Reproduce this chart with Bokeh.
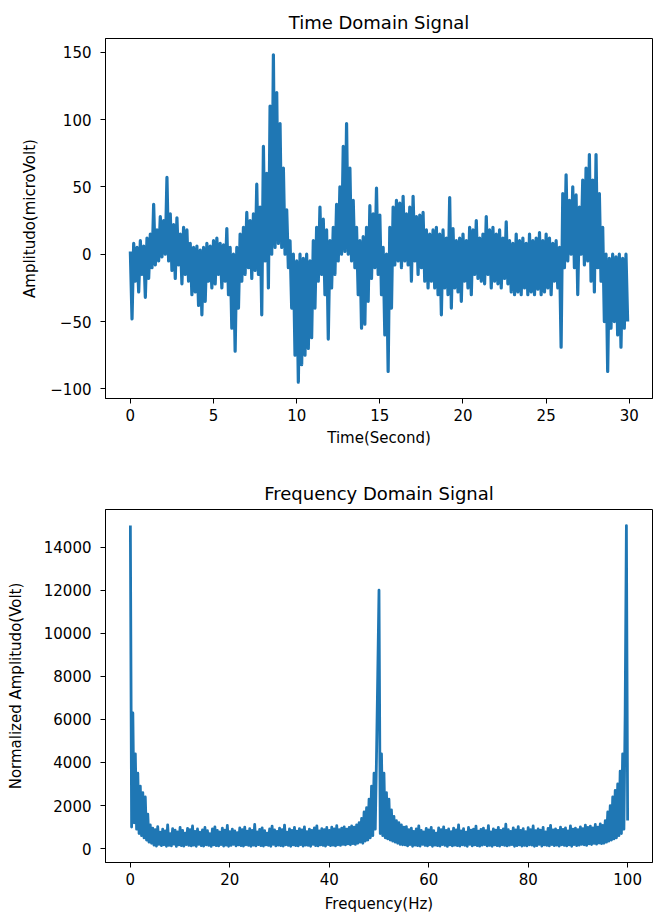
import numpy as np
from bokeh.plotting import figure
from bokeh.layouts import column
from bokeh.models import Range1d, FixedTicker, CustomJSTickFormatter
from bokeh.embed import file_html
from bokeh.resources import INLINE

# ---------------- data ----------------
# Time-domain signal, one value every 0.1 s (alternating crest / trough of the dense trace)
time_step_s = 0.1
amplitude_uv = [
    2, -48, 8, -20, 5, -28, 10, -15, 6, -32, 12, -18, 15, -10, 37, -8, 18, -5, 28, -2,
    25, 0, 57, -5, 30, -12, 22, -18, 27, -8, 15, -22, 20, -15, 18, -20, 8, -30, 5, -28,
    6, -38, 3, -45, 5, -35, 8, -20, 6, -25, 10, -22, 12, -15, 8, -25, 7, -20, 19, -30,
    5, -55, 0, -72, 5, -40, 15, -20, 20, -15, 31, -10, 25, -18, 30, -12, 52, -15, 35, -45,
    80, -5, 60, -25, 110, 0, 148, 5, 120, 8, 97, 5, 64, 0, 33, -10, 10, -40, 0, -75,
    -5, -95, 0, -82, -3, -75, 0, -70, -5, -62, 10, -40, 20, -20, 35, -15, 26, -30, 18, -63,
    10, -25, 20, -15, 37, -5, 50, 0, 80, 2, 97, 0, 64, -5, 40, -10, 20, -30, 10, -55,
    13, -52, 20, -35, 36, -18, 30, -10, 49, -15, 29, -30, 5, -60, 0, -87, 20, -40, 35, -8,
    40, -5, 38, -10, 43, -5, 30, -8, 35, -20, 43, -5, 28, -15, 29, -10, 31, -20, 18, -25,
    15, -20, 18, -25, 20, -30, 15, -45, 18, -25, 12, -30, 42, -40, 19, -25, 10, -28, 12, -35,
    15, -20, 10, -25, 20, -30, 18, -15, 25, -18, 12, -20, 15, -22, 28, -15, 18, -25, 20, -20,
    15, -22, 18, -25, 12, -18, 24, -22, 10, -28, 8, -30, 15, -28, 10, -30, 12, -25, 8, -30,
    15, -28, 10, -30, 12, -26, 16, -30, 10, -28, 15, -25, 12, -30, 8, -20, 10, -25, 5, -69,
    45, -10, 59, -5, 40, 0, 50, -10, 44, -30, 35, 0, 55, -8, 64, -5, 74, -20, 55, -28,
    74, -10, 45, -20, 20, -50, 0, -87, -3, -55, 0, -50, -2, -60, 0, -69, -3, -55, 0, -50,
]

# Frequency-domain magnitude, one value every 0.25 Hz
freq_step_hz = 0.25
mag_low_decay = [15000, 1000, 6300, 1200, 4400, 900, 3500, 700, 2900, 600,
                 2600, 500, 2400, 400, 1600, 300, 1100, 250]
mag_floor_a = [
    950, 160, 880, 120, 1020, 200, 760, 140, 900, 180, 820, 110, 1100, 150, 700, 130, 930, 210, 860, 100,
    780, 170, 990, 140, 850, 120, 720, 190, 940, 150, 880, 130, 1050, 160, 800, 110, 910, 200, 760, 140,
    870, 120, 980, 180, 830, 150, 690, 100, 920, 170, 1010, 140, 840, 130, 770, 190, 950, 120, 860, 160,
    1080, 110, 790, 150, 900, 200, 820, 130, 740, 170, 960, 140, 880, 120, 1000, 180, 810, 150, 930, 110,
    850, 160, 1120, 130, 780, 190, 890, 140, 960, 120, 830, 170, 720, 150, 910, 110, 1040, 200, 870, 130,
    800, 160, 950, 140, 880, 120, 1090, 180, 760, 150, 920, 110, 850, 170, 990, 140, 810, 130, 930, 190,
    870, 120, 1010, 160, 790, 150, 900, 110, 840, 200, 960, 140, 1060, 130, 820, 170, 930, 150, 880, 120,
    980, 190, 850, 140, 1000, 160, 920, 130, 1070, 180, 880, 150, 950, 200, 1010, 170, 900, 220, 980, 180,
    1050, 230,
]
mag_mid_peak = [1000, 200, 1100, 250, 1200, 300, 1400, 250, 1700, 350,
                1900, 400, 2300, 500, 2900, 600, 3500, 900, 4300, 8100,
                12000, 700, 4400, 600, 3500, 500, 2600, 450, 2300, 400,
                1800, 350, 1500, 300, 1300, 250, 1200, 200, 1100, 180,
                1000]
mag_floor_b = [
    170, 1020, 130, 880, 190, 950, 110, 800, 160, 920, 140, 1060, 120, 850, 200, 780, 150, 940, 130, 870,
    180, 990, 110, 830, 160, 720, 140, 960, 120, 880, 190, 1010, 150, 840, 100, 910, 170, 790, 130, 950,
    160, 870, 140, 1100, 120, 820, 180, 930, 150, 760, 110, 980, 200, 860, 130, 900, 170, 1040, 140, 810,
    120, 890, 160, 950, 190, 830, 130, 1070, 150, 780, 110, 920, 170, 860, 140, 990, 120, 840, 180, 910,
    150, 1130, 130, 880, 160, 800, 190, 960, 110, 870, 140, 1020, 170, 850, 120, 930, 150, 790, 130, 970,
    180, 880, 160, 1050, 110, 830, 140, 910, 200, 860, 120, 990, 170, 780, 150, 940, 130, 1080, 190, 870,
    140, 920, 160, 840, 120, 1000, 180, 890, 150, 960, 130, 820, 170, 1060, 110, 900, 190, 950, 140, 880,
    160, 1010, 200, 930, 180, 1090, 150, 980, 220, 1040, 190, 960, 240, 1120, 210, 1000, 260, 1150, 230, 1080,
]
mag_high_rise = [250, 1300, 300, 1700, 350, 2000, 400, 2400, 450, 2700,
                 500, 3000, 600, 3600, 700, 4400, 900, 6300, 15000, 1300]

x_ticks_time = [0, 5, 10, 15, 20, 25, 30]
y_ticks_time = [-100, -50, 0, 50, 100, 150]
x_ticks_freq = [0, 20, 40, 60, 80, 100]
y_ticks_freq = [0, 2000, 4000, 6000, 8000, 10000, 12000, 14000]

# ---------------- derived ----------------
amp = np.array(amplitude_uv, dtype=float)
time_s = np.arange(len(amp)) * time_step_s
mag = np.array(mag_low_decay + mag_floor_a + mag_mid_peak + mag_floor_b + mag_high_rise, dtype=float)
freq_hz = np.arange(len(mag)) * freq_step_hz


def padded(lo, hi, frac=0.05):
    d = (hi - lo) * frac
    return Range1d(lo - d, hi + d)


FONT = "DejaVu Sans"
LINE_COLOR = "#1f77b4"
minus_fmt = "return tick < 0 ? '\\u2212' + Math.abs(tick) : String(tick);"


def style(p, xt, yt, x_lab_standoff, y_lab_standoff):
    p.xgrid.visible = False
    p.ygrid.visible = False
    p.background_fill_color = "white"
    p.border_fill_color = "white"
    p.outline_line_color = "black"
    p.outline_line_width = 1
    p.title.text_font = FONT
    p.title.text_font_size = "18px"
    p.title.text_font_style = "normal"
    p.title.text_color = "black"
    p.title.align = "center"
    p.title.standoff = 12
    for ax, ticks in ((p.xaxis[0], xt), (p.yaxis[0], yt)):
        ax.ticker = FixedTicker(ticks=ticks)
        ax.formatter = CustomJSTickFormatter(code=minus_fmt)
        ax.minor_tick_line_color = None
        ax.major_tick_in = 0
        ax.major_tick_out = 5
        ax.major_tick_line_color = "black"
        ax.axis_line_color = "black"
        ax.major_label_text_font = FONT
        ax.major_label_text_font_size = "15px"
        ax.major_label_text_color = "black"
        ax.axis_label_text_font = FONT
        ax.axis_label_text_font_size = "15px"
        ax.axis_label_text_font_style = "normal"
        ax.axis_label_text_color = "black"
    p.xaxis[0].major_label_standoff = 5
    p.yaxis[0].major_label_standoff = 9
    p.xaxis[0].axis_label_standoff = x_lab_standoff
    p.yaxis[0].axis_label_standoff = y_lab_standoff


p1 = figure(width=660, height=460, output_backend="svg", toolbar_location=None,
            title="Time Domain Signal", x_axis_label="Time(Second)",
            y_axis_label="Amplitudo(microVolt)",
            x_range=padded(time_s.min(), time_s.max()),
            y_range=padded(amp.min(), amp.max()),
            min_border_left=100, min_border_right=8, min_border_top=38, min_border_bottom=62)
p1.line(time_s, amp, line_color=LINE_COLOR, line_width=3.2, line_join="round")
style(p1, x_ticks_time, y_ticks_time, 5, 8)

p2 = figure(width=660, height=457, output_backend="svg", toolbar_location=None,
            title="Frequency Domain Signal", x_axis_label="Frequency(Hz)",
            y_axis_label="Normalized Amplitudo(Volt)",
            x_range=padded(freq_hz.min(), freq_hz.max()),
            y_range=padded(mag.min(), mag.max()),
            min_border_left=105, min_border_right=8, min_border_top=49, min_border_bottom=55)
p2.line(freq_hz, mag, line_color=LINE_COLOR, line_width=2.8, line_join="round")
style(p2, x_ticks_freq, y_ticks_freq, 7, 16)

layout = column(p1, p2, spacing=0)
open("out.html", "w").write(file_html(layout, INLINE))
